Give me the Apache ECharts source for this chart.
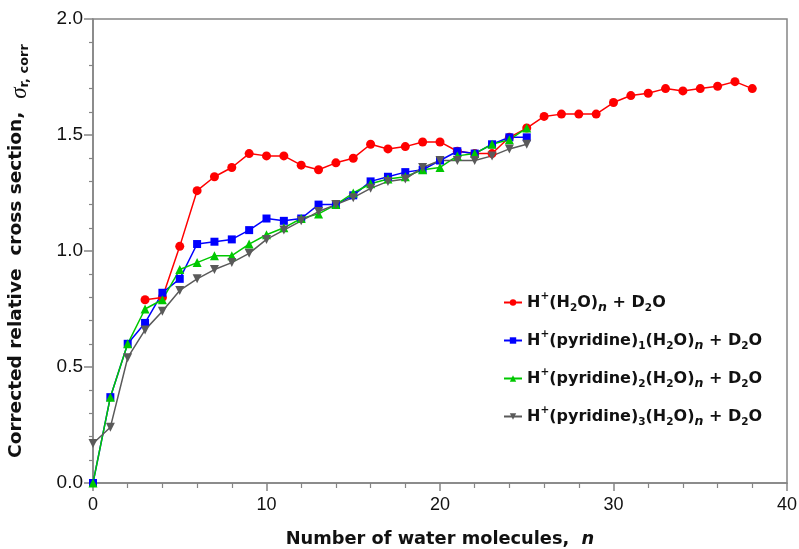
<!DOCTYPE html>
<html><head><meta charset="utf-8">
<script src="https://cdn.jsdelivr.net/npm/echarts@6/dist/echarts.min.js"></script>
<style>html,body{margin:0;padding:0;background:#fff}#c{width:799px;height:549px}</style>
</head><body><div id="c"></div>
<script>
var waterN = [3,4,5,6,7,8,9,10,11,12,13,14,15,16,17,18,19,20,21,22,23,24,25,26,27,28,29,30,31,32,33,34,35,36,37,38];
var waterVals = [0.79,0.80,1.02,1.26,1.32,1.36,1.42,1.41,1.41,1.37,1.35,1.38,1.40,1.46,1.44,1.45,1.47,1.47,1.43,1.42,1.42,1.49,1.53,1.58,1.59,1.59,1.59,1.64,1.67,1.68,1.70,1.69,1.70,1.71,1.73,1.70];
var pyrN = [0,1,2,3,4,5,6,7,8,9,10,11,12,13,14,15,16,17,18,19,20,21,22,23,24,25];
var pyr1Vals = [0.00,0.37,0.60,0.69,0.82,0.88,1.03,1.04,1.05,1.09,1.14,1.13,1.14,1.20,1.20,1.24,1.30,1.32,1.34,1.35,1.39,1.43,1.42,1.46,1.49,1.49];
var pyr2Vals = [0.00,0.37,0.60,0.75,0.79,0.92,0.95,0.98,0.98,1.03,1.07,1.10,1.14,1.16,1.20,1.25,1.29,1.31,1.32,1.35,1.36,1.41,1.42,1.46,1.48,1.53];
var pyr3Vals = [0.17,0.24,0.54,0.66,0.74,0.83,0.88,0.92,0.95,0.99,1.05,1.09,1.13,1.17,1.20,1.23,1.27,1.30,1.31,1.36,1.39,1.39,1.39,1.41,1.44,1.46];
var seriesNames = ['H+(H2O)n + D2O','H+(pyridine)1(H2O)n + D2O','H+(pyridine)2(H2O)n + D2O','H+(pyridine)3(H2O)n + D2O'];
var legendRich = [
  '{b|H}{sup|+}{b|(H}{sub|2}{b|O)}{subi|n}{b| + D}{sub|2}{b|O}',
  '{b|H}{sup|+}{b|(pyridine)}{sub|1}{b|(H}{sub|2}{b|O)}{subi|n}{b| + D}{sub|2}{b|O}',
  '{b|H}{sup|+}{b|(pyridine)}{sub|2}{b|(H}{sub|2}{b|O)}{subi|n}{b| + D}{sub|2}{b|O}',
  '{b|H}{sup|+}{b|(pyridine)}{sub|3}{b|(H}{sub|2}{b|O)}{subi|n}{b| + D}{sub|2}{b|O}'
];
var xTitle = 'Number of water molecules,  ';
var yTitle = 'Corrected relative  cross section,  ';

function pairs(xs, ys){ return xs.map(function(x,i){ return [x, ys[i]]; }); }

var FF = '"Liberation Sans", Arial, sans-serif';
var FB = '"DejaVu Sans", "Liberation Sans", sans-serif';
var chart = echarts.init(document.getElementById('c'), null, {renderer:'canvas'});
var axisCol = '#858585';
function mk(name, data, color, symbol, size, rot){
  return {name:name, type:'line', data:data, symbol:symbol, symbolSize:size, symbolRotate:rot||0,
    lineStyle:{color:color, width:1.5}, itemStyle:{color:color}, animation:false, z:2};
}
chart.setOption({
  animation:false,
  grid:{left:93, right:12, top:19, bottom:66, outerBoundsMode:'none', containLabel:false, show:true, borderColor:axisCol, borderWidth:1.5},
  legend:{
    orient:'vertical', left:498, top:286, itemGap:15, itemWidth:18, itemHeight:8,
    data:seriesNames,
    formatter:function(n){ return legendRich[seriesNames.indexOf(n)]; },
    textStyle:{
      rich:{
        b:{fontFamily:FB, fontWeight:'bold', fontSize:16, color:'#111', lineHeight:23},
        sup:{fontFamily:FB, fontWeight:'bold', fontSize:10.5, color:'#111', verticalAlign:'top', lineHeight:23, padding:[0,0,9,0]},
        sub:{fontFamily:FB, fontWeight:'bold', fontSize:10.5, color:'#111', verticalAlign:'bottom', lineHeight:23, padding:[7,0,0,0]},
        subi:{fontFamily:FB, fontWeight:'bold', fontStyle:'italic', fontSize:12.5, color:'#111', verticalAlign:'bottom', lineHeight:23, padding:[6,0,0,0]}
      }
    }
  },
  xAxis:{
    type:'value', min:0, max:40, interval:10,
    name:'{t|'+xTitle+'}{i|n}', nameLocation:'middle', nameGap:47,
    nameTextStyle:{rich:{t:{fontFamily:FB, fontWeight:'bold', fontSize:17.8, color:'#111'}, i:{fontFamily:FB, fontWeight:'bold', fontStyle:'italic', fontSize:17.8, color:'#111'}}},
    axisLine:{lineStyle:{color:axisCol, width:1.5}},
    axisTick:{inside:false, length:8, lineStyle:{color:axisCol, width:1.5}},
    minorTick:{show:true, splitNumber:5, length:5, lineStyle:{color:axisCol, width:1.2}},
    splitLine:{show:false},
    axisLabel:{fontFamily:FF, fontSize:18, color:'#111', margin:13}
  },
  yAxis:{
    type:'value', min:0, max:2, interval:0.5,
    name:'{t|'+yTitle+'}{s|σ}{r|r, corr}', nameLocation:'middle', nameGap:62, nameRotate:90,
    nameTextStyle:{rich:{
      t:{fontFamily:FB, fontWeight:'bold', fontSize:18.5, color:'#111'},
      s:{fontFamily:'"Liberation Serif", serif', fontStyle:'italic', fontSize:23, color:'#111', verticalAlign:'bottom', padding:[6,0,0,0]},
      r:{fontFamily:FB, fontWeight:'bold', fontSize:13, color:'#111', verticalAlign:'bottom', padding:[8,0,0,0]}
    }},
    axisLine:{lineStyle:{color:axisCol, width:1.5}},
    axisTick:{inside:false, length:9, lineStyle:{color:axisCol, width:1.5}},
    minorTick:{show:true, splitNumber:5, length:4, lineStyle:{color:axisCol, width:1.2}},
    splitLine:{show:false},
    axisLabel:{fontFamily:FF, fontSize:19, color:'#111', margin:10, formatter:function(v){return v.toFixed(1);}}
  },
  series:[
    mk(seriesNames[0], pairs(waterN, waterVals), '#ff0000', 'circle', 9),
    mk(seriesNames[1], pairs(pyrN, pyr1Vals), '#0000ff', 'rect', 8),
    mk(seriesNames[2], pairs(pyrN, pyr2Vals), '#00c800', 'triangle', 9),
    mk(seriesNames[3], pairs(pyrN, pyr3Vals), '#5a5a5a', 'triangle', 9, 180)
  ]
});
</script></body></html>
